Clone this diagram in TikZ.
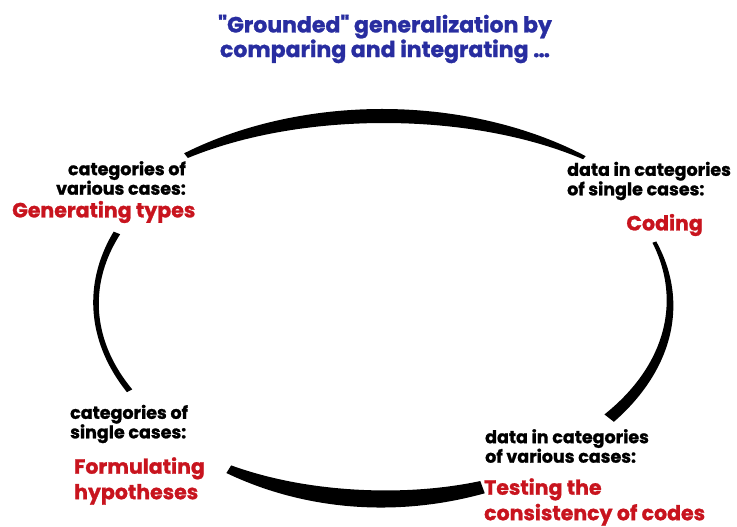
\documentclass[tikz,border=0pt]{standalone}
\usepackage{fontspec}
\setmainfont{Poppins}
\newfontfamily\heavyfont{Poppins}[BoldFeatures={FakeBold=1.2}]
\usepackage{xcolor}
\usepackage{tikz}
\usetikzlibrary{positioning}

\definecolor{titleblue}{RGB}{40,45,160}
\definecolor{stepred}{RGB}{200,20,30}

% one tapered stroke along the ellipse: angles, radii, widths (start, bulge, end)
\newcommand{\brusharc}[7]{%
  \fill[brush] plot[domain=#1:#2, samples=60]
    ({(#3+0.5*bw(\x,#1,#2,#5,#6,#7))*cos(\x)}, {(#4+0.5*bw(\x,#1,#2,#5,#6,#7))*sin(\x)})
    -- plot[domain=#2:#1, samples=60]
    ({(#3-0.5*bw(\x,#1,#2,#5,#6,#7))*cos(\x)}, {(#4-0.5*bw(\x,#1,#2,#5,#6,#7))*sin(\x)})
    -- cycle;}

\begin{document}
\begin{tikzpicture}[
    x=1pt,
    y=1pt,
    declare function={bw(\sv,\ea,\eb,\wa,\wm,\wb)=\wa+(\wb-\wa)*(\sv-\ea)/(\eb-\ea)+\wm*sin(180*(\sv-\ea)/(\eb-\ea));},
    brush/.style={fill=black},
    head/.style={font=\fontsize{22}{23.5}\heavyfont\bfseries, text=titleblue, align=center, inner sep=0pt},
    cat/.style={font=\fontsize{17.5}{19.5}\heavyfont\bfseries, inner sep=0pt},
    act/.style={font=\fontsize{20.5}{25.5}\heavyfont\bfseries, text=stepred, inner sep=0pt}
]
    \useasboundingbox (0,0) rectangle (737,527);

    % Title
    \node[head] (title) at (385,488) {"Grounded" generalization by\\comparing and integrating \dots};

    % Cycle strokes round the centre
    \coordinate (c) at (383,224);
    \begin{scope}[shift={(c)}]
        \brusharc{51}{128}{320}{187}{4}{9}{6}
        \brusharc{158}{208}{287}{187}{7}{-1}{6}
        \brusharc{238}{290}{291}{196}{9}{6}{13}
        \brusharc{-38}{19}{287}{187}{12}{0}{4}
    \end{scope}

    % Top left
    \node[cat, align=right, anchor=east] (tlcat) at (186,349) {categories of\\various cases:};
    \node[act, anchor=west] (tlact) at (12,315) {Generating types};

    % Top right
    \node[cat, align=left, anchor=west] (trcat) at (567,346) {data in categories\\of single cases:};
    \node[act, anchor=east] (tract) at (703,302) {Coding};

    % Bottom left
    \node[cat, align=left, anchor=west] (blcat) at (70,103) {categories of\\single cases:};
    \node[act, align=left, anchor=west] (blact) at (74,46) {Formulating\\hypotheses};

    % Bottom right
    \node[cat, align=left, anchor=west] (brcat) at (485,81) {data in categories\\of various cases:};
    \node[act, align=left, anchor=west] (bract) at (484,25) {Testing the\\consistency of codes};
\end{tikzpicture}
\end{document}
